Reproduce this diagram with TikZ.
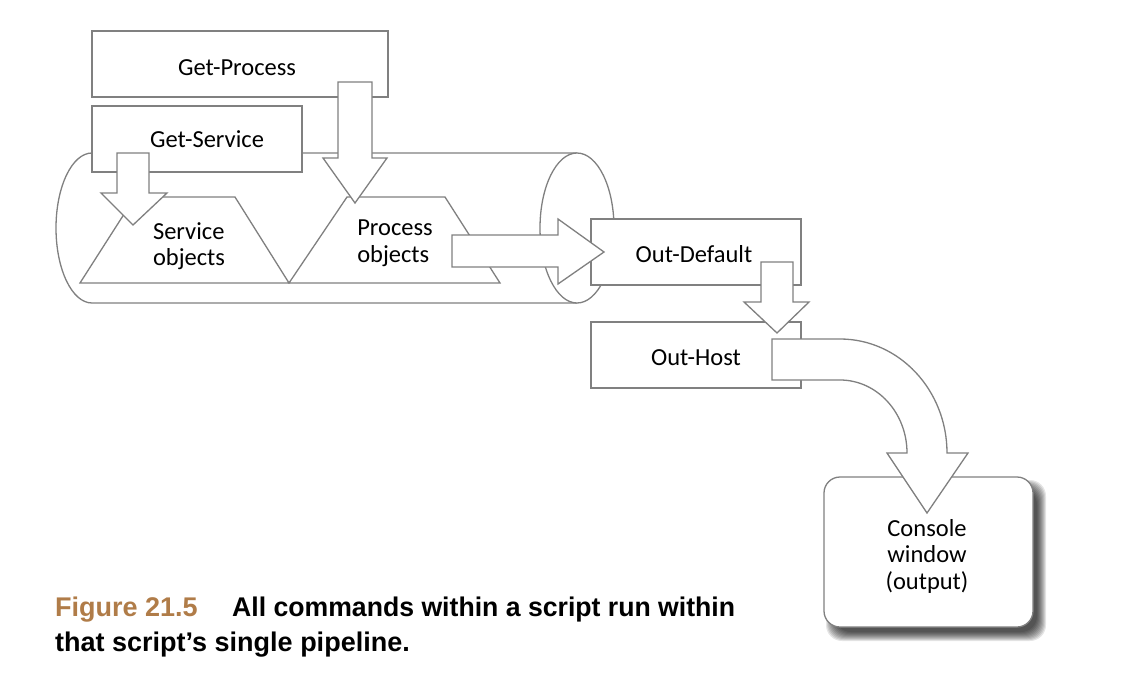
\documentclass[tikz,border=0pt]{standalone}
\usepackage{fontspec}
\setmainfont{Carlito}
\newfontfamily\capfont{Liberation Sans}
\definecolor{ln}{RGB}{128,128,128}
\definecolor{figbrown}{RGB}{176,124,72}
\begin{document}
\begin{tikzpicture}[x=1pt,y=-1pt,
  shp/.style={draw=ln, line width=1.3pt, fill=white, line join=miter},
  boxnode/.style={shp, inner sep=0pt},
  lbl/.style={font=\fontsize{24.5}{26.5}\selectfont, inner sep=0pt},
  captxt/.style={font=\capfont\bfseries\fontsize{27}{35}\selectfont, inner sep=0pt, anchor=base west}]
\useasboundingbox (0,0) rectangle (1124,696);
\fill[white] (0,0) rectangle (1124,696);

% pipeline cylinder
\draw[shp] (577,153) -- (92,153) arc[start angle=270, end angle=90, x radius=36, y radius=75] -- (577,303);
\draw[shp] (577,228) ellipse[x radius=37, y radius=75];

% object trapezoids
\draw[shp] (80,283) -- (135,197) -- (235,197) -- (289,283) -- cycle;
\draw[shp] (289,283) -- (347,197) -- (445,197) -- (500,283) -- cycle;

% command boxes
\node[boxnode, minimum width=296pt, minimum height=66pt] (gp) at (240,64) {};
\node[lbl] (gpt) at (237,68) {Get-Process};
\node[boxnode, minimum width=210pt, minimum height=66pt] (gs) at (197,139) {};
\node[lbl] (gst) at (207,139) {Get-Service};

% down arrows into objects
\draw[shp] (117,153) -- (149,153) -- (149,193) -- (167,193) -- (133,225) -- (101,193) -- (117,193) -- cycle;
\draw[shp] (338,82) -- (372,82) -- (372,158) -- (387,158) -- (355,203) -- (323,158) -- (338,158) -- cycle;

\node[lbl, align=left] (sot) at (189,246) {Service\\objects};
\node[lbl, align=left] (pot) at (395,243) {Process\\objects};

% Out-Default
\node[boxnode, minimum width=210pt, minimum height=66pt] (od) at (696,252) {};
\node[lbl] (odt) at (694,254) {Out-Default};
\draw[shp] (452,235) -- (558,235) -- (558,219) -- (604,252) -- (558,284) -- (558,267) -- (452,267) -- cycle;

% Out-Host
\node[boxnode, minimum width=210pt, minimum height=66pt] (oh) at (696,355) {};
\node[lbl] (oht) at (696,358) {Out-Host};
\draw[shp] (761,262) -- (793,262) -- (793,302) -- (809,302) -- (777,333) -- (744,302) -- (761,302) -- cycle;

% console window with blurred shadow
\foreach \r in {6,5,4,3,2,1,0,-1,-2,-3}
  \fill[black, opacity=0.1, rounded corners=16pt] (832-\r,486-\r) rectangle (1040+\r,635+\r);
\draw[shp, rounded corners=16pt] (824,477) rectangle (1033,627);
\node[lbl, align=center] (cw) at (927,556) {Console\\window\\(output)};

% curved arrow
\draw[shp] (772,339) -- (840,339) arc[start angle=-90, end angle=0, x radius=107, y radius=114]
  -- (968,453) -- (927,513) -- (887,453) -- (907,453)
  arc[start angle=0, end angle=-90, x radius=67, y radius=73] -- (772,380) -- cycle;

% caption
\node[captxt, text=figbrown] (fig) at (55,616) {Figure 21.5};
\node[captxt, xscale=0.986, transform shape] (c1) at (232,616) {All commands within a script run within};
\node[captxt] (c2) at (55,651) {that script’s single pipeline.};
\end{tikzpicture}
\end{document}
